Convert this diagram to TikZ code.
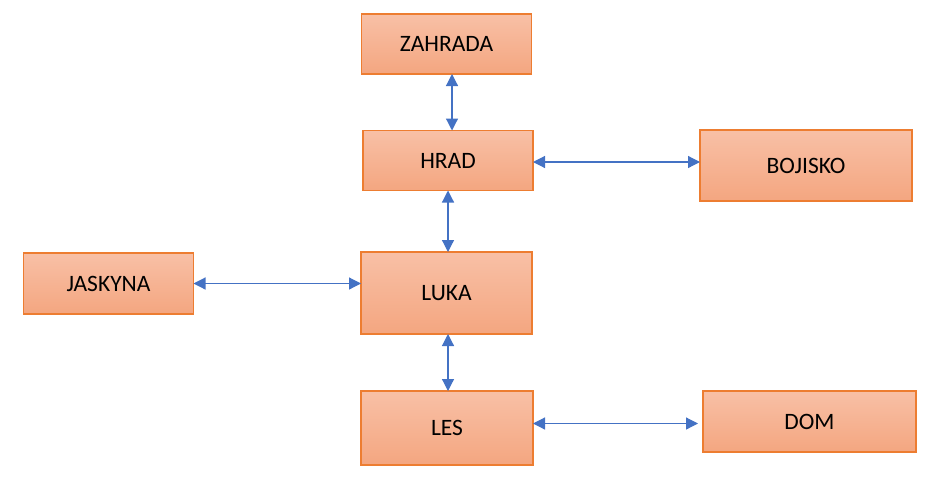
\documentclass[tikz,border=0pt]{standalone}
\usepackage{fontspec}
\setmainfont{Carlito}
\usetikzlibrary{arrows.meta}
\definecolor{boxtop}{RGB}{248,192,166}
\definecolor{boxbot}{RGB}{244,166,128}
\definecolor{boxline}{RGB}{237,125,49}
\definecolor{arrowblue}{RGB}{68,114,196}
\begin{document}
\begin{tikzpicture}[x=1pt,y=-1pt,
  placebox/.style={draw=boxline, line width=1.1pt, top color=boxtop, bottom color=boxbot,
    inner sep=0pt, outer sep=0pt, font=\fontsize{23.5}{26}\selectfont, text=black},
  link/.style={draw=arrowblue, line width=1.2pt, {Triangle[length=12pt,width=12pt]}-{Triangle[length=12pt,width=12pt]}}
]
\useasboundingbox (0,0) rectangle (933,490);
\node[placebox, minimum width=170pt, minimum height=60pt] (zahrada) at (446.5,44) {ZAHRADA};
\node[placebox, minimum width=170pt, minimum height=60pt] (hrad) at (448,160.5) {HRAD};
\node[placebox, minimum width=212pt, minimum height=71pt] (bojisko) at (806,165.5) {BOJISKO};
\node[placebox, minimum width=170pt, minimum height=61pt] (jaskyna) at (108.5,283.5) {JASKYNA};
\node[placebox, minimum width=171pt, minimum height=82pt] (luka) at (446.5,293) {LUKA};
\node[placebox, minimum width=172pt, minimum height=74pt] (les) at (447,428) {LES};
\node[placebox, minimum width=213pt, minimum height=61pt] (dom) at (809.5,421.5) {DOM};

\coordinate (za) at (452,0);
\coordinate (hl) at (448,0);
\draw[link] (zahrada.south -| za) -- (hrad.north -| za);
\draw[link] (hrad.south -| hl) -- (luka.north -| hl);
\draw[link] (luka.south -| hl) -- (les.north -| hl);
\coordinate (hb) at (0,162);
\draw[link] (hrad.east |- hb) -- (bojisko.west |- hb);
\coordinate (jl) at (0,283.5);
\draw[link] (jaskyna.east |- jl) -- (luka.west |- jl);
\coordinate (ld) at (0,423.5);
\draw[link, shorten >=5pt] (les.east |- ld) -- (dom.west |- ld);
\end{tikzpicture}
\end{document}
